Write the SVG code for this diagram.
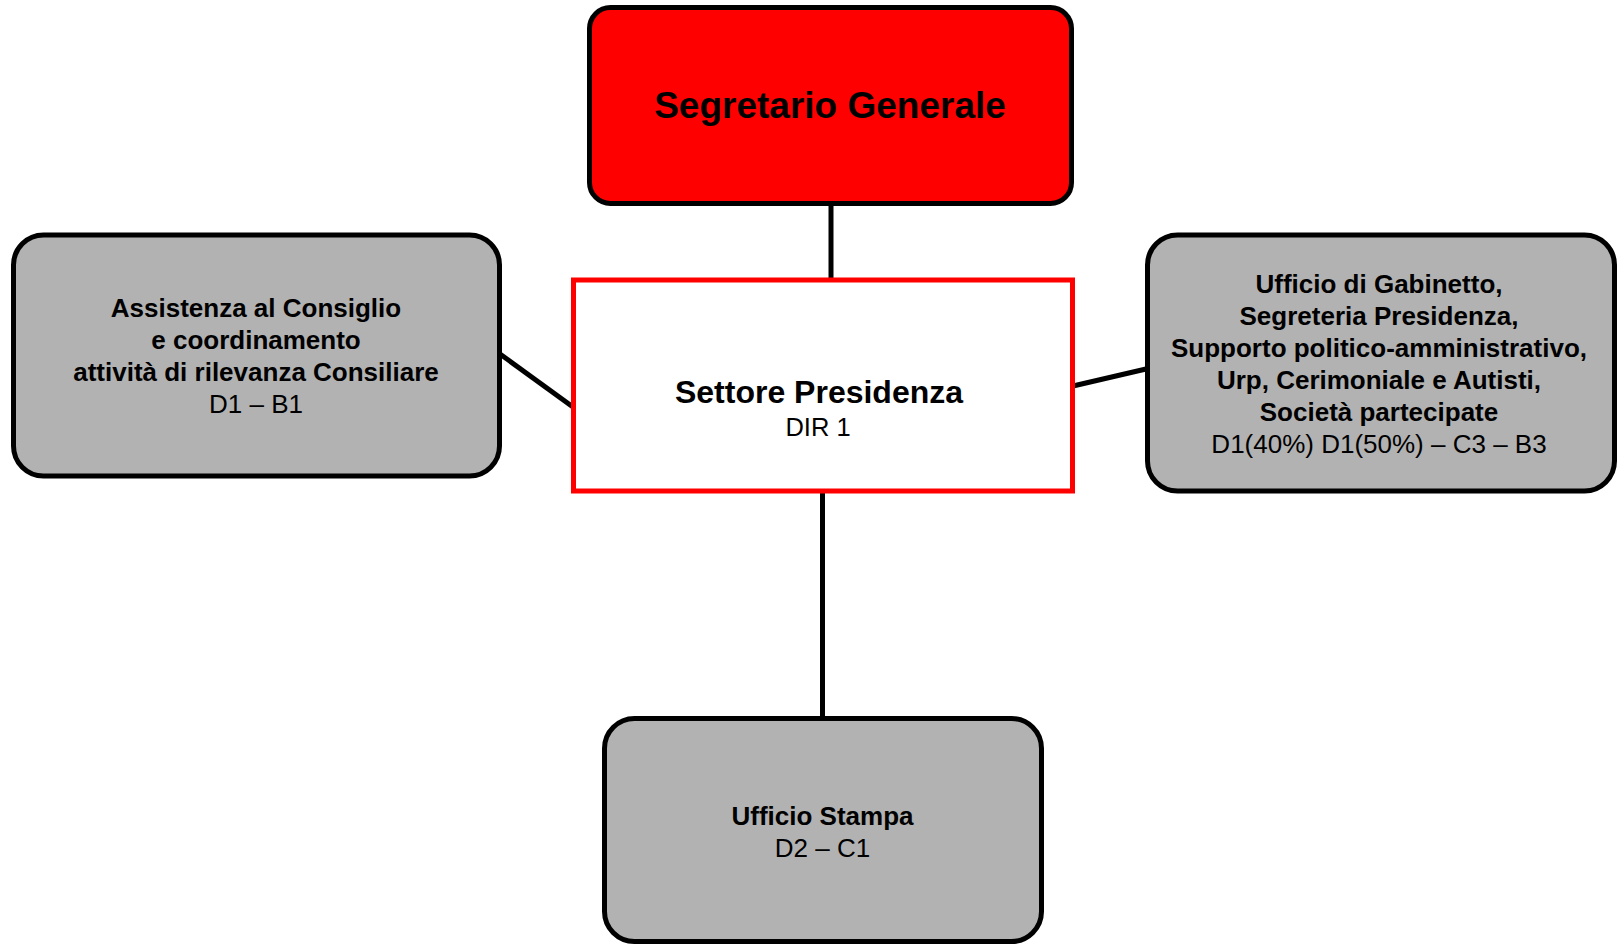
<svg xmlns="http://www.w3.org/2000/svg" width="1618" height="946" viewBox="0 0 1618 946">
<style>
.box{fill:#b2b2b2;stroke:#000;stroke-width:5}
.t{font-family:"Liberation Sans",Arial,sans-serif;fill:#000;text-anchor:middle}
.b{font-weight:bold}
.conn line{stroke:#000;stroke-width:5}
</style>
<rect width="1618" height="946" fill="#fff"/>
<g class="conn" id="connectors">
<line x1="831" y1="204" x2="831" y2="278"/>
<line x1="822.5" y1="492" x2="822.5" y2="718"/>
<line x1="500" y1="354" x2="573" y2="407"/>
<line x1="1073" y1="386" x2="1146" y2="369"/>
</g>
<g id="segretario">
<rect x="589.5" y="7.5" width="482" height="196" rx="21" fill="#ff0000" stroke="#000" stroke-width="5"/>
<text class="t b" x="830" y="118" font-size="37">Segretario Generale</text>
</g>
<g id="settore">
<rect x="573.5" y="280" width="499" height="211" fill="#fff" stroke="#ff0000" stroke-width="5"/>
<text class="t b" x="819" y="403" font-size="32">Settore Presidenza</text>
<text class="t" x="818" y="436" font-size="25.5">DIR 1</text>
</g>
<g id="assistenza">
<rect class="box" x="13.5" y="235" width="486" height="241" rx="30"/>
<text class="t b" x="256" y="317" font-size="26">Assistenza al Consiglio</text>
<text class="t b" x="256" y="349" font-size="26">e coordinamento</text>
<text class="t b" x="256" y="381" font-size="26">attività di rilevanza Consiliare</text>
<text class="t" x="256" y="413" font-size="26">D1 – B1</text>
</g>
<g id="gabinetto">
<rect class="box" x="1147.5" y="235" width="467" height="256" rx="30"/>
<text class="t b" x="1379" y="293" font-size="26">Ufficio di Gabinetto,</text>
<text class="t b" x="1379" y="325" font-size="26">Segreteria Presidenza,</text>
<text class="t b" x="1379" y="357" font-size="26">Supporto politico-amministrativo,</text>
<text class="t b" x="1379" y="389" font-size="26">Urp, Cerimoniale e Autisti,</text>
<text class="t b" x="1379" y="421" font-size="26">Società partecipate</text>
<text class="t" x="1379" y="453" font-size="26">D1(40%) D1(50%) – C3 – B3</text>
</g>
<g id="stampa">
<rect class="box" x="604.5" y="718.5" width="437" height="223" rx="30"/>
<text class="t b" x="822.5" y="825" font-size="26">Ufficio Stampa</text>
<text class="t" x="822.5" y="857" font-size="26">D2 – C1</text>
</g>
</svg>
